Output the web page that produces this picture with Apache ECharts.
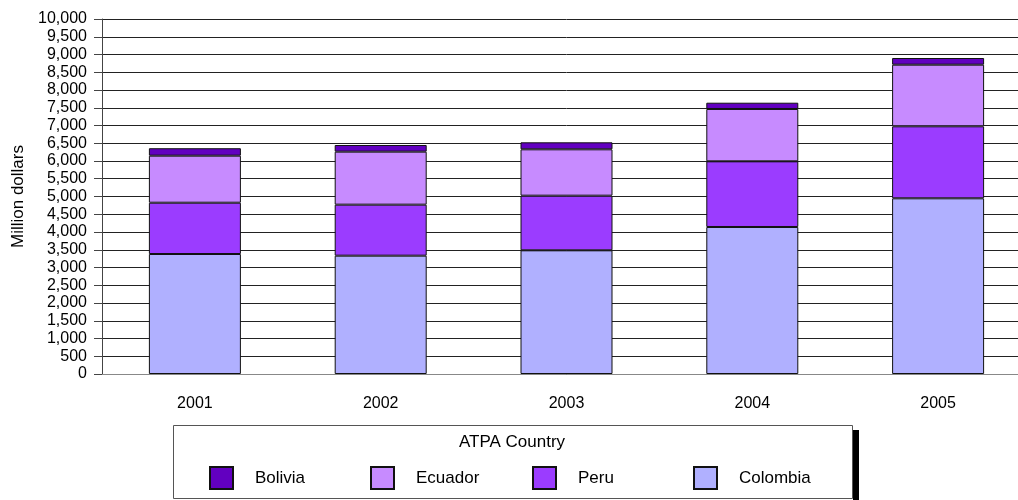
<!DOCTYPE html>
<html>
<head>
<meta charset="utf-8">
<script src="https://cdn.jsdelivr.net/npm/echarts@6/dist/echarts.min.js"></script>
<style>
html,body{margin:0;padding:0;background:#fff;overflow:hidden;width:1018px;height:500px;}
#chart{width:1040px;height:500px;}
</style>
</head>
<body>
<div id="chart"></div>
<script>
const years = ['2001', '2002', '2003', '2004', '2005'];
const colombia = [3380, 3333, 3484, 4141, 4949];
const peru = [1445, 1437, 1539, 1850, 2028];
const ecuador = [1325, 1493, 1306, 1474, 1736];
const bolivia = [210, 188, 197, 177, 188];
const seriesNames = ['Colombia', 'Peru', 'Ecuador', 'Bolivia'];
const legendOrder = ['Bolivia', 'Ecuador', 'Peru', 'Colombia'];
const yMin = 0, yMax = 10000, yStep = 500;

const colors = {Colombia: '#b0b0ff', Peru: '#9b3cff', Ecuador: '#c78bff', Bolivia: '#6200c0'};
const values = {Colombia: colombia, Peru: peru, Ecuador: ecuador, Bolivia: bolivia};
const FONT = 'Liberation Sans, Arial, sans-serif';

const chart = echarts.init(document.getElementById('chart'), null, {renderer: 'canvas'});

const legendLeft = {Bolivia: 209, Ecuador: 370, Peru: 532, Colombia: 693};

const option = {
  animation: false,
  backgroundColor: '#fff',
  grid: {left: 102, top: 19, width: 929, height: 355, outerBoundsMode: 'none'},
  xAxis: {
    type: 'category',
    data: years,
    boundaryGap: true,
    axisLine: {lineStyle: {color: '#888', width: 1}},
    axisTick: {alignWithLabel: true, length: 8, lineStyle: {color: '#333'}},
    axisLabel: {margin: 22, fontSize: 16, color: '#000', fontFamily: FONT},
    splitLine: {show: false}
  },
  yAxis: {
    type: 'value',
    min: yMin, max: yMax, interval: yStep,
    name: 'Million dollars',
    nameLocation: 'middle',
    nameGap: 74,
    nameTextStyle: {fontSize: 17, color: '#000', fontFamily: FONT},
    axisLine: {show: true, lineStyle: {color: '#444', width: 1}},
    axisTick: {show: true, length: 8, lineStyle: {color: '#444'}},
    axisLabel: {
      margin: 15, fontSize: 16, color: '#000', fontFamily: FONT,
      formatter: v => v.toLocaleString('en-US')
    },
    splitLine: {show: true, lineStyle: {color: '#222', width: 1}}
  },
  legend: legendOrder.map(n => ({
    data: [n],
    left: legendLeft[n],
    top: 466,
    padding: 0,
    itemWidth: 23,
    itemHeight: 22,
    icon: 'rect',
    selectedMode: false,
    textStyle: {fontSize: 17, color: '#000', fontFamily: FONT, padding: [0, 0, 0, 17]}
  })),
  graphic: [
    {type: 'rect', shape: {x: 853, y: 430, width: 6, height: 80}, style: {fill: '#000'}, z: 0},
    {type: 'rect', shape: {x: 173.5, y: 425.5, width: 679, height: 73}, style: {fill: '#fff', stroke: '#555', lineWidth: 1}, z: 1},
    {type: 'text', style: {text: 'ATPA Country', x: 512, y: 442, align: 'center', verticalAlign: 'middle', fontSize: 17, fill: '#000', fontFamily: FONT}, z: 2}
  ],
  series: seriesNames.map(n => ({
    name: n,
    type: 'bar',
    stack: 'total',
    barWidth: 92,
    data: values[n],
    itemStyle: {color: colors[n], borderColor: '#111', borderWidth: 1},
    z: 3
  }))
};
chart.setOption(option);
</script>
</body>
</html>
